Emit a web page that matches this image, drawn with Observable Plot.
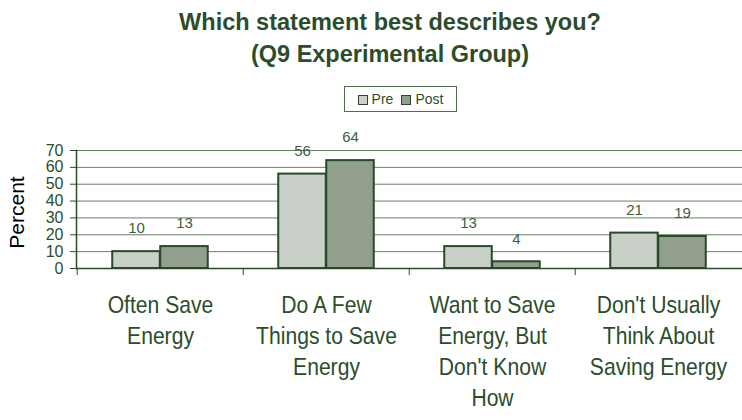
<!DOCTYPE html>
<html>
<head>
<meta charset="utf-8">
<script src="https://cdn.jsdelivr.net/npm/d3@7"></script>
<script src="https://cdn.jsdelivr.net/npm/@observablehq/plot@0.6"></script>
<style>
  html, body { margin: 0; padding: 0; background: #fff; }
  #wrap { position: relative; width: 742px; height: 420px; overflow: hidden; font-family: "Liberation Sans", Arial, sans-serif; }
  #title { position: absolute; left: 40px; width: 700px; top: 6px; text-align: center; font-weight: bold; font-size: 23.5px; line-height: 32px; color: #2b4d2b; }
  #legend { position: absolute; left: 344px; top: 86px; width: 111px; height: 24px; border: 1px solid #4e6e4e; display: flex; align-items: center; justify-content: center; gap: 8px; font-size: 14px; color: #2b4d2b; }
  .sw { display: inline-block; width: 8px; height: 8px; border: 1.5px solid #284a28; margin-right: 4px; vertical-align: middle; }
  #chart { position: absolute; left: 0; top: 0; }
</style>
</head>
<body>
<div id="wrap">
  <div id="chart"></div>
  <div id="title"></div>
  <div id="legend"></div>
</div>
<script>
const titleLines = ["Which statement best describes you?", "(Q9 Experimental Group)"];
const seriesNames = ["Pre", "Post"];
const seriesColors = ["#c9d0c7", "#929f8d"];
const categories = [
  "Often Save Energy",
  "Do A Few Things to Save Energy",
  "Want to Save Energy, But Don't Know How",
  "Don't Usually Think About Saving Energy"
];
const tickLabels = [
  "Often Save\nEnergy",
  "Do A Few\nThings to Save\nEnergy",
  "Want to Save\nEnergy, But\nDon't Know\nHow",
  "Don't Usually\nThink About\nSaving Energy"
];
const preValues = [10, 56, 13, 21];
const postValues = [13, 64, 4, 19];
const yTicks = [0, 10, 20, 30, 40, 50, 60, 70];
const yLabel = "Percent";

document.getElementById("title").innerHTML = titleLines.join("<br>");
document.getElementById("legend").innerHTML = seriesNames.map((s, i) =>
  `<span><span class="sw" style="background:${seriesColors[i]}"></span>${s}</span>`).join("");

const pre = categories.map((c, i) => ({cat: c, value: preValues[i]}));
const post = categories.map((c, i) => ({cat: c, value: postValues[i]}));

const W = 742, H = 420, mL = 76, mR = 0;
const bw = (W - mL - mR) / categories.length;
const barW = 48;
const half = bw / 2;
const dark = "#284a28";
const textCol = "#2b4d2b";

const chart = Plot.plot({
  width: W,
  height: H,
  marginLeft: mL,
  marginRight: mR,
  marginTop: 150,
  marginBottom: 152,
  style: {fontFamily: '"Liberation Sans", Arial, sans-serif', background: "transparent", overflow: "visible"},
  x: {type: "band", domain: categories, padding: 0},
  y: {domain: [0, 70]},
  marks: [
    Plot.gridY(yTicks, {stroke: "#55704f", strokeOpacity: 0.9, strokeWidth: 1}),
    Plot.barY(pre, {x: "cat", y: "value", fill: seriesColors[0], stroke: dark, strokeWidth: 2, insetLeft: half - barW, insetRight: half}),
    Plot.barY(post, {x: "cat", y: "value", fill: seriesColors[1], stroke: dark, strokeWidth: 2, insetLeft: half, insetRight: half - barW}),
    Plot.text(pre, {x: "cat", y: "value", text: "value", dx: -barW / 2, dy: -23, fontSize: 15, fill: "#3e5e3e"}),
    Plot.text(post, {x: "cat", y: "value", text: "value", dx: barW / 2, dy: -23, fontSize: 15, fill: "#3e5e3e"}),
    Plot.ruleY([0], {stroke: dark, strokeWidth: 1.5}),
    Plot.frame({anchor: "left", stroke: dark, strokeWidth: 1.5}),
    Plot.axisY({ticks: yTicks, tickSize: 6, tickPadding: 7, fontSize: 16, color: textCol, stroke: dark, label: null}),
    Plot.axisX({tickSize: 7, tickFormat: () => "", dx: -half, stroke: dark, label: null}),
    Plot.axisX({tickSize: 0, tickPadding: 22, fontSize: 24, lineHeight: 1.3, color: textCol, label: null,
      tickFormat: (d) => tickLabels[categories.indexOf(d)], textOverflow: null}),
    Plot.text([yLabel], {frameAnchor: "left", dx: -59, dy: 3, rotate: -90, textAnchor: "middle", fontSize: 21, fill: "#000"})
  ]
});
// condense the category labels horizontally (the reference uses a narrow face)
d3.select(chart).selectAll("g[aria-label='x-axis tick label'] text").each(function() {
  const t = this.getAttribute("transform") || "";
  this.setAttribute("transform", t + " scale(0.88,1)");
});
document.getElementById("chart").appendChild(chart);
</script>
</body>
</html>
